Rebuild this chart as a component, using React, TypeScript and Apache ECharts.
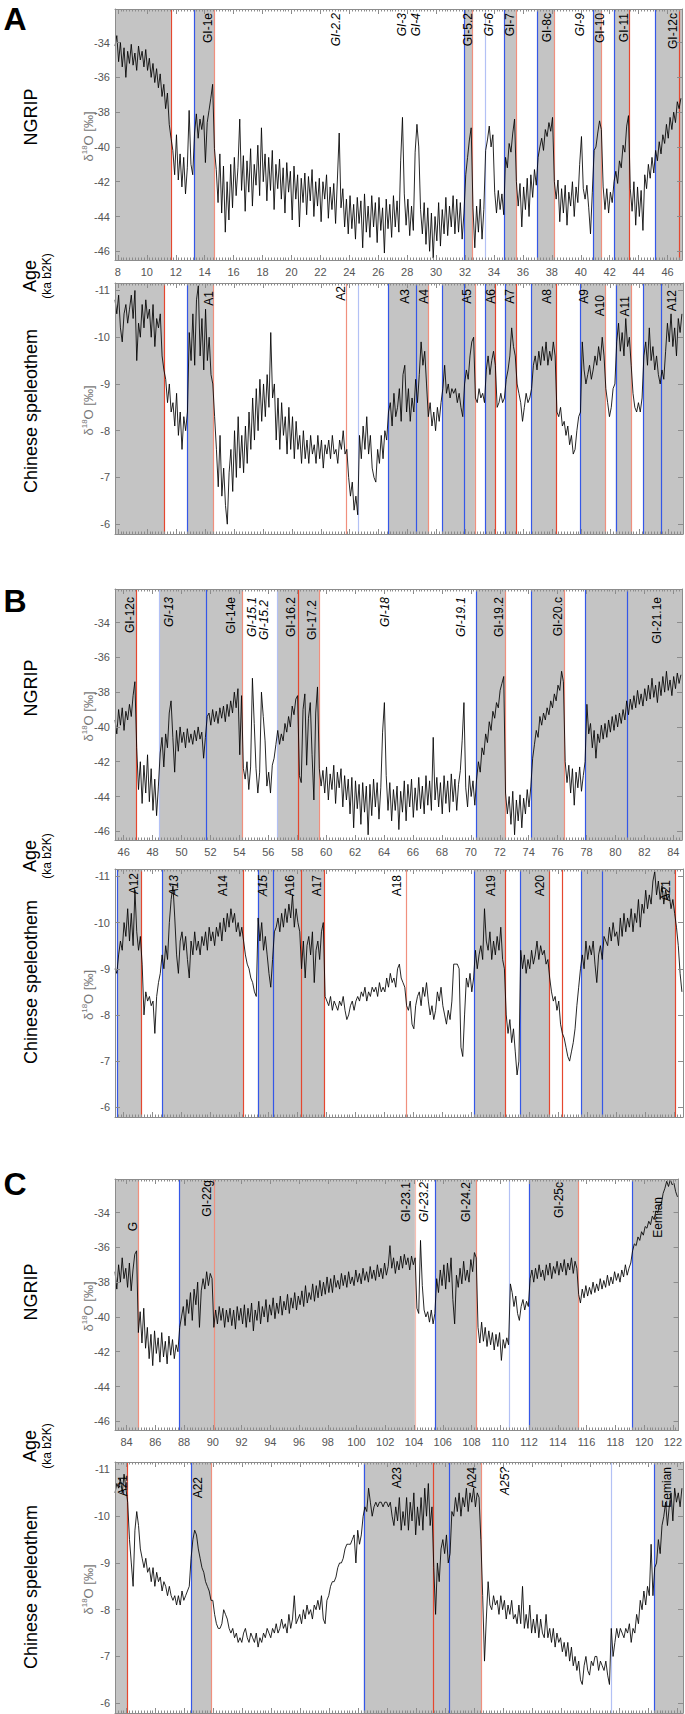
import React, { useEffect, useRef } from "react";
import * as echarts from "echarts";

// ---------- DATA ----------
// NGRIP δ18O, panel A (one row = 1 ka, sampled every 0.125 ka from 7.8 ka)
const ngripA_start = 7.8;
const ngripA_step = 0.125;
const ngripA = [
  -34.2, -33.6, -35.1, -34.0, -35.4, -34.3, -36.0, -34.5,
  -35.2, -34.1, -35.3, -34.6, -35.6, -34.2, -35.0, -34.5,
  -35.4, -34.4, -35.6, -34.9, -36.0, -35.2, -36.3, -35.5,
  -36.6, -35.8, -37.1, -36.4, -37.8, -36.9, -38.7, -39.5,
  -40.2, -41.6, -39.3, -41.9, -40.4, -42.3, -40.6, -42.7,
  -41.2, -37.9, -41.0, -41.6, -39.2, -38.1, -39.5, -38.4,
  -39.0, -38.2, -40.9, -38.6, -37.9, -37.2, -36.4, -40.1,
  -41.3, -43.2, -40.4, -43.8, -41.1, -44.9, -42.0, -44.2,
  -41.0, -43.5, -40.6, -42.8, -41.2, -38.4, -42.5, -40.5,
  -43.7, -40.8, -42.6, -40.1, -43.4, -41.0, -42.2, -39.9,
  -42.8, -38.9, -42.0, -40.4, -43.1, -40.6, -42.5, -40.2,
  -43.6, -41.0, -42.4, -40.7, -43.0, -41.2, -43.8, -40.9,
  -42.6, -41.4, -44.2, -41.1, -43.0, -41.6, -44.6, -41.8,
  -43.2, -41.5, -43.9, -41.7, -43.1, -41.3, -44.0, -42.0,
  -43.4, -41.8, -44.3, -42.0, -43.0, -41.6, -44.1, -42.3,
  -43.6, -42.1, -44.4, -41.9, -39.2, -43.5, -42.4, -44.6,
  -43.0, -45.0, -42.8, -44.7, -43.3, -45.3, -42.9, -44.4,
  -43.1, -45.8, -42.7, -44.9, -43.4, -45.2, -42.8, -44.6,
  -43.2, -45.5, -42.9, -44.8, -43.5, -46.1, -43.0, -44.7,
  -43.3, -45.2, -42.8, -44.6, -43.1, -44.9, -40.8, -38.3,
  -42.7, -44.5, -43.0, -45.1, -43.4, -44.8, -40.3, -38.7,
  -40.0, -43.6, -45.0, -43.2, -45.6, -43.5, -46.0, -43.8,
  -46.4, -44.0, -45.4, -43.2, -45.7, -43.6, -45.0, -42.9,
  -45.1, -43.4, -44.6, -42.8, -45.0, -43.0, -44.9, -43.2,
  -45.3, -43.8, -41.6, -40.6, -39.6, -38.9, -43.5, -45.8,
  -43.4, -44.9, -43.0, -45.3, -43.6, -40.2, -39.6, -38.8,
  -40.0, -39.3, -42.6, -43.8, -42.5, -43.6, -42.7, -43.9,
  -40.6, -41.2, -39.8, -40.3, -39.2, -38.4, -42.0, -43.4,
  -42.1, -44.6, -42.3, -43.6, -41.8, -44.0, -41.6, -42.9,
  -41.3, -42.2, -40.6, -40.0, -39.5, -40.2, -39.0, -39.4,
  -38.6, -39.1, -38.3, -42.0, -43.0, -41.9, -44.3, -42.4,
  -43.8, -42.2, -44.5, -42.6, -43.4, -42.0, -44.0, -42.3,
  -43.2, -41.0, -39.4, -42.4, -43.0, -42.2, -43.5, -45.0,
  -42.6, -40.2, -40.0, -39.2, -38.5, -39.0, -42.3, -43.6,
  -42.4, -43.8, -42.6, -43.2, -42.0, -41.4, -42.1, -40.8,
  -41.2, -39.9, -40.3, -38.8, -38.2, -42.4, -43.7, -42.0,
  -44.5, -42.3, -44.0, -42.5, -44.8, -41.6, -42.4, -41.0,
  -41.8, -40.6, -41.5, -40.2, -40.8, -39.7, -40.4, -39.3,
  -39.8, -38.7, -39.5, -38.3, -39.0, -38.0, -38.6, -37.4,
  -37.8, -37.2,
];
// Chinese speleothem δ18O, panel A
const spelA_start = 7.8;
const spelA_step = 0.125;
const spelA = [
  -10.8, -10.5, -10.9, -10.2, -9.9, -10.5, -10.7, -10.3,
  -10.6, -10.9, -10.4, -11.0, -9.5, -10.3, -10.0, -10.7,
  -10.2, -10.8, -10.4, -10.6, -10.0, -10.7, -9.8, -10.4,
  -10.2, -10.5, -9.6, -9.3, -9.1, -8.6, -9.0, -8.4,
  -8.6, -8.1, -8.8, -7.9, -8.4, -7.6, -8.3, -8.0,
  -8.4, -10.1, -9.5, -10.5, -9.4, -10.8, -11.1, -9.6,
  -10.4, -9.3, -10.6, -9.5, -10.0, -9.2, -9.0, -8.3,
  -7.6, -6.8, -7.9, -6.6, -7.2, -6.4, -6.0, -7.1,
  -7.6, -6.7, -8.0, -7.0, -8.3, -7.2, -7.9, -7.1,
  -8.1, -7.3, -8.4, -7.6, -8.7, -7.8, -8.9, -8.0,
  -9.1, -8.2, -9.0, -8.3, -9.2, -8.5, -10.1, -8.7,
  -9.0, -7.8, -8.7, -7.6, -8.6, -7.9, -8.3, -7.5,
  -8.5, -7.6, -8.3, -7.4, -8.2, -7.6, -7.9, -7.3,
  -8.0, -7.4, -7.8, -7.3, -7.9, -7.5, -7.7, -7.3,
  -7.9, -7.4, -7.8, -7.2, -7.7, -7.5, -7.8, -7.4,
  -7.9, -7.5, -7.6, -7.3, -7.8, -7.6, -8.0, -7.5,
  -7.6, -7.0, -6.6, -6.9, -6.3, -6.6, -6.2, -7.9,
  -7.4, -8.1, -7.6, -8.3, -7.5, -7.9, -7.2, -7.0,
  -6.9, -7.6, -7.3, -7.9, -7.4, -8.0, -7.8, -8.4,
  -8.6, -8.1, -8.8, -8.3, -8.5, -8.9, -8.2, -9.2,
  -9.4, -8.4, -8.9, -8.2, -8.7, -8.4, -9.1, -8.6,
  -9.2, -9.9, -9.4, -9.7, -9.0, -8.3, -8.6, -8.1,
  -8.4, -8.0, -8.5, -8.2, -8.6, -8.9, -9.4, -8.8,
  -9.0, -8.7, -8.9, -8.8, -8.9, -8.6, -8.8, -8.5,
  -8.3, -9.0, -9.3, -9.1, -9.6, -9.9, -10.0, -8.7,
  -8.6, -8.9, -8.7, -8.8, -8.6, -9.3, -9.6, -9.2,
  -9.5, -9.7, -9.4, -8.5, -8.6, -8.8, -8.6, -8.7,
  -9.1, -9.3, -9.6, -10.2, -9.8, -9.6, -9.0, -8.8,
  -8.6, -8.2, -8.5, -8.8, -8.6, -8.7, -8.9, -9.4,
  -9.6, -9.3, -9.7, -9.4, -9.8, -9.5, -9.9, -9.4,
  -9.7, -9.5, -9.9, -9.6, -8.4, -8.3, -8.5, -8.1,
  -8.2, -7.9, -8.1, -7.7, -7.9, -7.5, -7.6, -8.0,
  -8.3, -8.4, -9.9, -9.3, -9.0, -9.2, -9.4, -9.1,
  -9.3, -9.6, -9.4, -9.8, -9.5, -10.0, -9.6, -8.9,
  -8.6, -8.3, -8.5, -8.9, -9.0, -9.9, -10.3, -9.7,
  -10.1, -9.6, -10.4, -9.8, -10.0, -9.4, -8.8, -8.5,
  -8.4, -8.6, -8.4, -8.7, -9.6, -9.9, -9.4, -10.2,
  -9.5, -9.8, -9.3, -9.6, -9.2, -9.0, -9.3, -9.1,
  -9.7, -10.3, -9.9, -10.5, -9.8, -10.2, -9.6, -10.4,
  -10.1, -10.5,
];

// NGRIP δ18O, panel B (from 45.4 ka)
const ngripB_start = 45.4;
const ngripB_step = 0.125;
const ngripB = [
  -39.6, -40.4, -39.0, -39.9, -38.9, -40.2, -39.1, -39.6,
  -38.7, -39.4, -38.2, -37.4, -41.2, -43.6, -42.0, -44.4,
  -42.2, -43.8, -41.6, -44.3, -42.4, -44.8, -43.0, -45.1,
  -43.4, -41.5, -40.6, -42.3, -40.4, -41.2, -39.2, -38.5,
  -40.6, -42.6, -40.2, -41.4, -40.0, -40.9, -40.3, -41.2,
  -40.1, -40.9, -40.4, -41.0, -40.2, -40.8, -40.0, -40.7,
  -40.3, -41.8, -40.6, -39.4, -39.2, -39.9, -39.0, -39.7,
  -39.1, -39.8, -38.9, -39.5, -38.8, -39.7, -38.7, -39.4,
  -38.5, -39.2, -38.0, -38.9, -37.8, -41.6, -38.2, -42.4,
  -43.0, -42.0, -43.6, -42.3, -37.2, -39.8, -42.4, -43.8,
  -42.6, -38.0, -39.4, -40.8, -43.4, -42.6, -43.8, -42.2,
  -41.8, -41.0, -40.2, -41.0, -40.4, -40.8, -39.8, -40.3,
  -39.4, -40.0, -38.8, -39.3, -38.4, -38.2, -42.8, -43.2,
  -39.0, -38.1, -42.2, -39.5, -38.6, -41.6, -44.2, -39.2,
  -37.7, -42.4, -43.4, -42.5, -43.8, -42.3, -44.2, -42.7,
  -43.6, -42.2, -44.4, -42.6, -43.5, -42.4, -44.6, -42.8,
  -44.2, -43.0, -45.0, -42.9, -45.8, -43.1, -44.7, -43.3,
  -45.6, -43.2, -44.9, -43.4, -46.2, -43.3, -45.1, -43.0,
  -44.6, -43.2, -45.3, -43.5, -40.3, -38.6, -42.8, -44.8,
  -43.2, -45.4, -43.6, -44.8, -43.4, -45.9, -43.7, -44.9,
  -43.1, -45.4, -43.3, -44.6, -43.0, -45.2, -43.5, -44.8,
  -42.9, -44.7, -43.4, -45.0, -42.8, -44.5, -43.1, -44.8,
  -40.6, -44.2, -42.9, -44.6, -43.2, -45.0, -42.8, -44.4,
  -43.1, -44.9, -42.7, -44.3, -43.0, -44.8, -43.3, -42.5,
  -40.8, -38.6, -43.5, -44.6, -42.8, -44.0, -43.1, -44.5,
  -43.0, -42.0, -42.6, -41.2, -41.6, -40.4, -40.9, -39.7,
  -40.2, -39.1, -39.5, -38.6, -38.9, -37.9, -37.5, -37.1,
  -43.8, -45.0, -44.0, -45.6, -43.7, -46.2, -44.2, -45.4,
  -43.9, -45.8, -44.1, -45.0, -43.6, -44.6, -43.4, -41.8,
  -41.0, -40.2, -40.6, -39.4, -39.9, -39.2, -39.6, -38.9,
  -39.3, -38.5, -38.9, -38.1, -38.5, -37.6, -37.9, -36.8,
  -37.4, -42.0, -43.2, -42.2, -43.8, -42.4, -44.5, -42.6,
  -43.5, -42.3, -43.7, -42.8, -42.0, -38.7, -40.4, -39.8,
  -41.2, -40.2, -41.8, -40.4, -40.9, -39.9, -40.7, -39.8,
  -40.6, -39.6, -40.3, -39.4, -40.2, -39.3, -40.0, -39.2,
  -39.8, -39.0, -39.6, -38.5, -39.3, -38.4, -39.0, -38.2,
  -38.9, -37.9, -38.7, -38.1, -38.8, -37.8, -38.5, -37.6,
  -38.4, -37.2, -38.3, -37.6, -38.6, -37.4, -38.2, -37.1,
  -38.0, -36.8, -37.9, -37.3, -38.2, -37.1, -37.8, -36.9,
  -37.5, -37.0,
];
// Chinese speleothem δ18O, panel B
const spelB_start = 45.4;
const spelB_step = 0.125;
const spelB = [
  -9.0, -8.9, -9.3, -9.6, -9.4, -10.0, -9.7, -10.3,
  -9.6, -10.2, -9.5, -10.7, -9.8, -9.4, -9.7, -9.1,
  -8.0, -8.5, -8.3, -8.4, -8.2, -8.3, -7.6, -8.4,
  -8.7, -8.9, -9.3, -9.0, -9.5, -9.2, -10.0, -10.5,
  -10.8, -10.1, -9.3, -8.9, -9.6, -9.8, -9.4, -9.7,
  -9.2, -8.8, -9.6, -9.3, -9.8, -9.4, -9.6, -9.3,
  -9.7, -9.5, -9.8, -9.4, -9.9, -9.6, -9.8, -9.5,
  -9.9, -9.7, -10.0, -9.6, -10.1, -9.8, -10.2, -9.9,
  -10.3, -10.0, -10.2, -9.8, -10.0, -9.7, -9.9, -9.6,
  -9.3, -9.1, -9.0, -8.8, -8.7, -8.5, -8.4, -10.1,
  -9.6, -10.0, -9.4, -9.7, -9.3, -8.9, -8.6, -9.2,
  -9.8, -9.9, -10.1, -9.8, -10.2, -9.9, -10.3, -10.0,
  -10.4, -10.1, -10.6, -9.9, -10.3, -10.0, -9.8, -9.0,
  -9.6, -8.8, -9.5, -9.7, -9.3, -9.8, -8.7, -9.4,
  -9.6, -9.2, -9.8, -10.0, -8.4, -8.3, -8.2, -8.4,
  -8.1, -8.3, -8.2, -8.1, -8.3, -8.2, -8.4, -8.1,
  -7.9, -8.0, -8.2, -8.3, -8.1, -8.3, -8.4, -8.3,
  -8.5, -8.4, -8.6, -8.3, -8.5, -8.4, -8.6, -8.5,
  -8.6, -8.4, -8.7, -8.5, -8.6, -8.5, -8.8, -8.6,
  -8.9, -8.7, -8.8, -8.6, -9.0, -9.1, -8.8, -8.7,
  -8.6, -8.2, -8.1, -8.3, -7.8, -7.7, -8.2, -8.4,
  -8.5, -8.2, -8.6, -8.4, -8.7, -8.3, -8.0, -8.2,
  -7.9, -8.1, -8.5, -8.3, -8.6, -8.2, -8.0, -7.8,
  -8.1, -7.9, -8.3, -9.1, -9.1, -9.1, -9.0, -7.3,
  -7.1, -8.0, -8.8, -8.6, -8.9, -8.5, -8.8, -9.4,
  -9.0, -9.3, -9.5, -9.2, -10.3, -9.6, -9.4, -9.8,
  -9.2, -9.6, -9.3, -9.7, -9.4, -9.9, -9.2, -9.0,
  -8.0, -7.6, -7.9, -7.4, -7.7, -7.2, -6.7, -7.0,
  -9.4, -9.0, -9.3, -8.9, -9.2, -9.0, -9.4, -9.1,
  -9.3, -9.6, -9.2, -9.5, -9.3, -9.4, -9.1, -9.2,
  -8.8, -8.5, -8.3, -8.4, -8.1, -8.3, -7.8, -7.6,
  -7.5, -7.3, -7.1, -7.0, -7.2, -7.4, -7.7, -8.2,
  -8.6, -9.0, -9.3, -9.0, -9.6, -9.2, -9.5, -9.3,
  -9.6, -9.1, -8.7, -9.3, -9.5, -9.2, -9.7, -9.6,
  -9.5, -9.9, -9.6, -10.0, -9.7, -9.8, -9.5, -10.1,
  -9.7, -10.2, -9.8, -10.1, -9.9, -10.3, -9.8, -10.2,
  -10.0, -10.5, -9.9, -10.4, -10.2, -10.7, -10.3, -10.6,
  -10.4, -10.9, -11.1, -10.6, -10.9, -10.5, -10.8, -10.4,
  -10.7, -10.5, -10.6, -10.3, -10.5, -10.2, -9.9, -9.5,
  -8.9, -8.5,
];

// NGRIP δ18O, panel C (from 83.2 ka)
const ngripC_start = 83.2;
const ngripC_step = 0.125;
const ngripC = [
  -37.4, -38.4, -37.0, -38.0, -36.6, -37.8, -37.2, -38.3,
  -36.9, -38.5, -37.3, -36.4, -36.2, -40.9, -39.7, -41.5,
  -39.5, -41.8, -40.6, -42.4, -41.0, -42.8, -40.8, -42.1,
  -41.2, -42.6, -40.9, -42.3, -41.4, -42.7, -41.1, -42.2,
  -41.3, -42.4, -41.6, -42.0, -40.6, -40.0, -39.4, -40.5,
  -39.0, -39.8, -38.6, -40.2, -38.4, -39.3, -38.0, -40.6,
  -38.5, -37.8, -38.4, -37.4, -38.2, -37.5, -37.8, -40.6,
  -39.6, -40.4, -39.4, -40.2, -39.5, -40.6, -39.6, -40.3,
  -39.5, -40.5, -39.6, -40.7, -39.4, -40.2, -39.5, -40.4,
  -39.3, -40.6, -39.5, -40.3, -39.2, -40.8, -39.6, -40.2,
  -39.1, -40.4, -39.4, -40.0, -39.0, -40.3, -39.3, -39.9,
  -38.9, -40.1, -39.2, -39.8, -38.8, -39.9, -39.1, -39.6,
  -38.7, -39.8, -38.9, -39.5, -38.6, -39.6, -38.8, -39.3,
  -38.5, -39.4, -38.2, -39.2, -38.6, -39.0, -38.1, -39.1,
  -38.2, -38.9, -37.9, -38.8, -38.0, -38.7, -37.7, -38.6,
  -37.8, -38.6, -37.6, -38.3, -37.9, -38.4, -37.5, -38.2,
  -37.6, -38.3, -37.4, -38.1, -37.7, -38.2, -37.3, -38.0,
  -37.5, -38.1, -37.2, -37.9, -37.4, -38.0, -37.1, -37.8,
  -37.3, -37.9, -37.0, -37.7, -37.2, -37.8, -36.9, -37.6,
  -37.1, -35.9, -37.2, -36.6, -37.5, -36.8, -37.3, -36.5,
  -37.2, -36.4, -37.0, -36.6, -37.3, -36.5, -37.0, -36.6,
  -39.5, -39.8, -35.6, -38.2, -39.6, -40.0, -39.7, -40.3,
  -39.6, -40.4, -39.8, -37.8, -38.6, -37.3, -38.2, -37.0,
  -38.4, -36.9, -38.0, -36.6, -39.0, -40.4, -37.6, -38.3,
  -37.2, -38.1, -36.8, -37.9, -37.3, -38.0, -36.7, -37.4,
  -36.3, -36.6, -40.6, -41.5, -40.3, -41.4, -40.6, -41.7,
  -40.8, -41.6, -40.9, -41.9, -41.0, -41.7, -40.9, -42.5,
  -41.3, -41.8, -41.2, -41.6, -38.1, -38.6, -39.4, -38.8,
  -39.8, -40.2, -39.4, -39.0, -39.6, -39.1, -39.4, -37.8,
  -37.3, -38.0, -37.2, -37.8, -37.0, -37.7, -37.3, -37.9,
  -37.0, -37.6, -36.9, -37.8, -37.1, -37.5, -36.8, -37.6,
  -36.9, -37.4, -36.7, -37.6, -36.9, -37.3, -36.6, -37.5,
  -36.8, -37.2, -38.7, -39.2, -38.4, -38.9, -38.2, -38.8,
  -38.3, -38.7, -38.0, -38.6, -38.1, -38.5, -37.8, -38.4,
  -37.9, -38.3, -37.6, -38.2, -37.7, -38.1, -37.4, -37.9,
  -37.5, -38.0, -37.3, -37.7, -37.0, -37.6, -37.2, -36.9,
  -36.2, -35.8, -35.9, -35.4, -35.6, -35.1, -35.3, -34.8,
  -34.9, -34.5, -34.7, -34.2, -34.4, -33.9, -34.0, -33.6,
  -33.5, -32.9, -32.6, -32.2, -32.5, -32.1, -32.4, -32.3,
  -32.8, -33.1,
];
// Chinese speleothem δ18O, panel C
const spelC_start = 83.2;
const spelC_step = 0.125;
const spelC = [
  -10.5, -10.7, -10.6, -10.8, -10.5, -10.9, -10.6, -10.3,
  -9.5, -9.0, -8.5, -9.7, -10.1, -9.8, -9.3, -9.1,
  -8.9, -9.1, -8.8, -8.9, -8.6, -8.9, -8.5, -8.8,
  -8.6, -8.7, -8.4, -8.6, -8.5, -8.3, -8.5, -8.3,
  -8.2, -8.3, -8.1, -8.3, -8.1, -8.4, -8.2, -8.3,
  -8.4, -8.5, -9.1, -9.5, -9.7, -9.6, -9.3, -9.1,
  -8.9, -8.8, -8.6, -8.5, -8.4, -8.2, -8.2, -7.9,
  -7.7, -7.6, -7.6, -7.7, -8.0, -7.9, -7.8, -7.6,
  -7.5, -7.6, -7.4, -7.5, -7.3, -7.4, -7.3, -7.5,
  -7.6, -7.4, -7.3, -7.5, -7.4, -7.3, -7.5, -7.2,
  -7.4, -7.3, -7.5, -7.4, -7.6, -7.5, -7.4, -7.6,
  -7.5, -7.7, -7.5, -7.6, -7.8, -7.6, -7.7, -7.5,
  -7.9, -7.6, -7.8, -8.3, -7.7, -7.8, -7.9, -7.7,
  -8.0, -7.8, -8.1, -7.9, -8.0, -7.8, -8.1, -8.0,
  -8.2, -8.0, -8.3, -7.8, -7.7, -8.2, -8.3, -8.5,
  -8.6, -8.6, -8.7, -8.9, -9.0, -9.0, -9.1, -9.3,
  -9.4, -9.4, -9.4, -9.5, -9.6, -9.0, -9.7, -9.4,
  -9.6, -10.0, -10.2, -10.1, -10.6, -10.3, -10.0, -10.2,
  -10.3, -10.2, -10.3, -10.3, -10.2, -10.3, -10.3, -10.2,
  -10.3, -10.0, -9.8, -10.2, -9.9, -10.4, -9.7, -10.1,
  -9.8, -10.4, -9.7, -10.3, -9.9, -10.5, -9.6, -10.2,
  -9.8, -10.4, -9.7, -10.6, -10.0, -10.7, -9.8, -10.2,
  -8.9, -7.9, -9.0, -8.6, -9.3, -9.5, -9.2, -9.6,
  -9.0, -9.2, -10.1, -10.0, -10.4, -10.1, -10.5, -10.0,
  -10.4, -10.2, -10.6, -10.1, -10.5, -10.3, -10.6, -10.2,
  -10.5, -10.4, -9.5, -8.3, -6.9, -7.8, -8.6, -8.1,
  -8.0, -8.3, -8.1, -8.2, -7.9, -8.3, -8.0, -8.2,
  -7.8, -8.1, -7.9, -8.2, -7.8, -7.9, -7.7, -8.1,
  -7.7, -8.5, -7.6, -7.9, -7.6, -8.1, -7.5, -7.8,
  -7.5, -7.9, -7.4, -7.8, -7.5, -7.4, -7.9, -7.4,
  -7.6, -7.3, -7.6, -7.2, -7.5, -7.3, -7.4, -7.1,
  -7.3, -7.0, -7.3, -6.9, -7.2, -6.8, -7.0, -6.7,
  -6.9, -6.5, -6.4, -6.8, -7.0, -6.7, -6.6, -6.9,
  -6.8, -7.0, -7.0, -6.7, -6.9, -6.8, -6.7, -6.9,
  -6.6, -6.4, -7.6, -7.0, -7.3, -7.6, -7.4, -7.6,
  -7.5, -7.4, -7.6, -7.5, -7.7, -7.3, -7.6, -7.5,
  -7.9, -7.7, -8.2, -8.0, -8.4, -8.1, -8.5, -8.3,
  -9.4, -8.3, -8.9, -9.0, -9.5, -9.2, -9.8, -10.0,
  -10.3, -9.8, -10.2, -10.5, -9.9, -10.6, -10.3, -10.5,
  -10.2, -10.6,
];

// Shaded intervals [from, to] in ka
const bandsNgripA = [[7.8, 11.66], [13.26, 14.66], [31.95, 32.53], [34.72, 35.52], [37.01, 38.17], [40.86, 41.45], [42.3, 43.35], [45.14, 47.0]];
const bandsSpelA = [[7.8, 11.18], [12.81, 14.6], [26.66, 29.42], [30.41, 32.64], [33.38, 34.07], [34.71, 35.52], [36.56, 38.28], [39.94, 41.66], [42.36, 43.46], [44.26, 47.0]];
const bandsNgripB = [[45.4, 46.85], [48.48, 54.23], [56.6, 59.5], [70.4, 72.37], [74.19, 76.46], [77.91, 84.6]];
const bandsSpelB = [[45.58, 47.24], [48.66, 54.23], [55.26, 59.84], [70.19, 72.34], [73.4, 75.4], [77.58, 84.09]];
const bandsNgripC = [[83.2, 84.82], [87.69, 104.06], [105.48, 108.33], [111.99, 115.44], [119.19, 122.4]];
const bandsSpelC = [[83.2, 84.03], [88.45, 89.87], [100.37, 108.5], [120.45, 122.4]];

// Transition lines [ka, kind]  r=red, s=salmon, lr=light red, b=blue, lb=light blue
const linesNgripA = [[11.66, "r"], [13.26, "b"], [14.66, "s"], [31.95, "b"], [32.53, "s"], [33.4, "lb"], [34.72, "b"], [35.52, "s"], [37.01, "b"], [38.17, "s"], [40.86, "b"], [41.45, "s"], [42.3, "b"], [43.35, "r"], [45.14, "b"], [46.78, "r"]];
const linesSpelA = [[11.18, "r"], [12.81, "b"], [14.6, "s"], [23.74, "s"], [24.59, "lb"], [26.66, "b"], [28.62, "b"], [29.42, "s"], [30.41, "b"], [31.89, "b"], [32.64, "s"], [33.38, "b"], [34.07, "r"], [34.71, "b"], [35.52, "r"], [36.56, "b"], [38.28, "r"], [39.94, "b"], [41.66, "s"], [42.36, "b"], [43.46, "s"], [44.26, "b"], [45.53, "b"]];
const linesNgripB = [[46.85, "r"], [48.48, "lb"], [51.69, "b"], [54.23, "s"], [56.6, "lb"], [58.08, "r"], [59.5, "s"], [70.4, "b"], [72.37, "s"], [74.19, "b"], [76.46, "s"], [77.91, "b"], [80.82, "b"]];
const linesSpelB = [[45.58, "b"], [47.24, "r"], [48.66, "b"], [54.23, "r"], [55.26, "b"], [56.35, "b"], [58.23, "r"], [59.84, "r"], [65.5, "s"], [70.19, "b"], [72.34, "r"], [73.4, "b"], [75.4, "r"], [76.3, "r"], [77.58, "b"], [79.03, "b"], [84.09, "r"]];
const linesNgripC = [[84.82, "s"], [87.69, "b"], [90.08, "s"], [104.06, "lr"], [105.48, "b"], [108.33, "s"], [110.63, "lb"], [111.99, "b"], [115.44, "s"], [119.19, "b"]];
const linesSpelC = [[84.03, "r"], [88.45, "b"], [89.87, "s"], [100.37, "b"], [105.15, "r"], [106.3, "b"], [108.5, "s"], [117.42, "lb"], [120.45, "b"]];

// Event labels [text, ka, italic]
const labelsNgripA = [["GI-1e", 14.2, 0], ["GI-2.2", 23.1, 1], ["GI-3", 27.65, 1], ["GI-4", 28.62, 1], ["GI-5.2", 32.18, 0], ["GI-6", 33.68, 1], ["GI-7", 35.13, 0], ["GI-8c", 37.7, 0], ["GI-9", 39.98, 1], ["GI-10", 41.31, 0], ["GI-11", 43.01, 0], ["GI-12c", 46.4, 0]];
const labelsSpelA = [["A1", 14.26, 0], ["A2", 23.38, 0], ["A3", 27.81, 0], ["A4", 29.13, 0], ["A5", 32.07, 0], ["A6", 33.73, 0], ["A7", 35.06, 0], ["A8", 37.59, 0], ["A9", 40.17, 0], ["A10", 41.27, 0], ["A11", 43.0, 0], ["A12", 46.22, 0]];
const labelsNgripB = [["GI-12c", 46.45, 0], ["GI-13", 49.12, 1], ["GI-14e", 53.45, 0], ["GI-15.1", 54.87, 1], ["GI-15.2", 55.72, 1], ["GI-16.2", 57.6, 0], ["GI-17.2", 59.02, 0], ["GI-18", 64.1, 1], ["GI-19.1", 69.34, 1], ["GI-19.2", 71.98, 0], ["GI-20.c", 76.0, 0], ["GI-21.1e", 82.88, 0]];
const labelsSpelB = [["A12", 46.7, 0], ["A13", 49.48, 1], ["A14", 52.84, 0], ["A15", 55.63, 1], ["A16", 57.5, 0], ["A17", 59.32, 0], ["A18", 64.86, 0], ["A19", 71.37, 0], ["A20", 74.76, 0], ["A21", 83.42, 0]];
const labelsNgripC = [["G", 84.42, 0], ["GI-22g", 89.6, 0], ["GI-23.1", 103.46, 0], ["GI-23.2", 104.67, 1], ["GI-24.2", 107.63, 0], ["GI-25c", 114.05, 0], ["Eemian", 120.94, 0]];
const labelsSpelC = [["A21", 83.73, 0], ["A22", 88.93, 0], ["A23", 102.64, 0], ["A24", 107.82, 0], ["A25?", 110.11, 1], ["Eemian", 121.27, 0]];

const panelLetters = ["A", "B", "C"];

// ---------- STYLE / LAYOUT ----------
const FONT = '"Liberation Sans", Arial, Helvetica, sans-serif';
const LINE_COLORS: Record<string, string> = { r: "#e5472f", s: "#f0907e", lr: "#f8bfb4", b: "#3457e8", lb: "#b3c1f5" };
const BAND_COLOR = "#c4c4c4";
const AXIS_COLOR = "#8c8c8c";
const LABEL_COLOR = "#555555";
const GRID_LEFT = 115;
const GRID_WIDTH = 568;
const layout = [
  { top: 9, height: 251 },
  { top: 283, height: 251 },
  { top: 589, height: 251 },
  { top: 869, height: 248 },
  { top: 1179, height: 251 },
  { top: 1462, height: 251 },
];
const labelDropDefault = [4, 6, 8, 6, 3, 5];
const labelDropExtra: Record<string, number> = {
  "1:A1": 8, "1:A2": 3, "1:A10": 12, "1:A11": 13, "1:A12": 7,
  "2:GI-15.2": 11, "2:GI-17.2": 11,
  "3:A12": 4, "3:A21": 11,
  "4:G": 43, "4:GI-22g": 1, "4:Eemian": 18,
  "5:A21": 13, "5:A22": 15,
};

type Panel = {
  kind: "ngrip" | "spel";
  xMin: number; xMax: number; start: number; step: number; values: number[];
  bands: number[][]; lines: any[]; labels: any[];
};

const panels: Panel[] = [
  { kind: "ngrip", xMin: 7.8, xMax: 47.0, start: ngripA_start, step: ngripA_step, values: ngripA, bands: bandsNgripA, lines: linesNgripA, labels: labelsNgripA },
  { kind: "spel", xMin: 7.8, xMax: 47.0, start: spelA_start, step: spelA_step, values: spelA, bands: bandsSpelA, lines: linesSpelA, labels: labelsSpelA },
  { kind: "ngrip", xMin: 45.4, xMax: 84.6, start: ngripB_start, step: ngripB_step, values: ngripB, bands: bandsNgripB, lines: linesNgripB, labels: labelsNgripB },
  { kind: "spel", xMin: 45.4, xMax: 84.6, start: spelB_start, step: spelB_step, values: spelB, bands: bandsSpelB, lines: linesSpelB, labels: labelsSpelB },
  { kind: "ngrip", xMin: 83.2, xMax: 122.4, start: ngripC_start, step: ngripC_step, values: ngripC, bands: bandsNgripC, lines: linesNgripC, labels: labelsNgripC },
  { kind: "spel", xMin: 83.2, xMax: 122.4, start: spelC_start, step: spelC_step, values: spelC, bands: bandsSpelC, lines: linesSpelC, labels: labelsSpelC },
];

const isMult = (v: number, m: number) => Math.abs(v / m - Math.round(v / m)) < 1e-6;

function buildOption() {
  const grid: any[] = [];
  const xAxis: any[] = [];
  const yAxis: any[] = [];
  const series: any[] = [];
  panels.forEach((p, i) => {
    const L = layout[i];
    grid.push({ left: GRID_LEFT, top: L.top, width: GRID_WIDTH, height: L.height, containLabel: false });
    const isN = p.kind === "ngrip";
    const common = { type: "value", gridIndex: i, min: p.xMin, max: p.xMax, splitLine: { show: false }, z: 5 };
    xAxis.push({
      ...common, position: "bottom", splitNumber: 20,
      axisLine: { show: true, onZero: false, lineStyle: { color: AXIS_COLOR, width: 1 } },
      axisTick: { show: true, inside: true, length: 5, lineStyle: { color: AXIS_COLOR } },
      axisLabel: {
        show: isN, color: LABEL_COLOR, fontSize: 11, fontFamily: FONT, margin: 6,
        formatter: (v: number) => (isMult(v, 2) ? String(Math.round(v)) : ""),
      },
    });
    xAxis.push({
      ...common, position: "bottom", interval: 0.2,
      axisLine: { show: false, onZero: false },
      axisTick: { show: true, inside: true, length: 2.5, lineStyle: { color: AXIS_COLOR } },
      axisLabel: { show: false },
    });
    xAxis.push({
      ...common, position: "top", splitNumber: 20,
      axisLine: { show: true, onZero: false, lineStyle: { color: AXIS_COLOR, width: 1 } },
      axisTick: { show: true, inside: true, length: 5, lineStyle: { color: AXIS_COLOR } },
      axisLabel: { show: false },
    });
    xAxis.push({
      ...common, position: "top", interval: 0.2,
      axisLine: { show: false, onZero: false },
      axisTick: { show: true, inside: true, length: 2.5, lineStyle: { color: AXIS_COLOR } },
      axisLabel: { show: false },
    });
    const yCommon = isN
      ? { min: -46.5, max: -32.07, splitNumber: 7, inverse: false }
      : { min: -11.16, max: -5.79, splitNumber: 5, inverse: true };
    const yFmt = (v: number) => (isN ? (isMult(v, 2) ? String(Math.round(v)) : "") : isMult(v, 1) ? String(Math.round(v)) : "");
    yAxis.push({
      type: "value", gridIndex: i, position: "left", ...yCommon, z: 5,
      splitLine: { show: false },
      axisLine: { show: true, onZero: false, lineStyle: { color: AXIS_COLOR, width: 1 } },
      axisTick: { show: true, inside: true, length: 5, lineStyle: { color: AXIS_COLOR } },
      axisLabel: { show: true, color: LABEL_COLOR, fontSize: 11, fontFamily: FONT, margin: 5, formatter: yFmt },
    });
    yAxis.push({
      type: "value", gridIndex: i, position: "right", ...yCommon, z: 5,
      splitLine: { show: false },
      axisLine: { show: true, onZero: false, lineStyle: { color: AXIS_COLOR, width: 1 } },
      axisTick: { show: true, inside: true, length: 5, lineStyle: { color: AXIS_COLOR } },
      axisLabel: { show: false },
    });

    series.push({
      type: "line",
      xAxisIndex: 4 * i,
      yAxisIndex: 2 * i,
      data: p.values.map((v, k) => [Math.round((p.start + k * p.step) * 1000) / 1000, v]),
      showSymbol: false,
      symbol: "none",
      silent: true,
      clip: true,
      lineStyle: { color: "#000", width: 0.85 },
      z: 3,
      markArea: {
        silent: true,
        z: 1,
        label: { show: false },
        itemStyle: { color: BAND_COLOR },
        data: p.bands.map(([a, b]) => [{ xAxis: a }, { xAxis: b }]),
      },
      markLine: {
        silent: true,
        z: 2,
        symbol: ["none", "none"],
        label: { show: false },
        emphasis: { disabled: true },
        data: p.lines.map(([x, c]: [number, string]) => ({
          xAxis: x,
          lineStyle: { color: LINE_COLORS[c], width: 1.2, type: "solid" },
        })),
      },
    });
  });
  return { animation: false, backgroundColor: "#fff", grid, xAxis, yAxis, series };
}

function rotText(x: number, y: number, text: string, font: string, fill: string, align: string) {
  return {
    type: "text",
    x, y,
    rotation: Math.PI / 2,
    z: 100,
    silent: true,
    style: { text, font, fill, align, textAlign: align, verticalAlign: "middle", textVerticalAlign: "middle" },
  };
}

function buildGraphics(chart: any) {
  const els: any[] = [];
  panels.forEach((p, i) => {
    const L = layout[i];
    p.labels.forEach(([t, ka, it]: [string, number, number]) => {
      const x = chart.convertToPixel({ xAxisIndex: 4 * i }, ka);
      const dy = labelDropExtra[`${i}:${t}`] ?? labelDropDefault[i];
      els.push(rotText(x, L.top + dy, t, `${it ? "italic " : ""}12px ${FONT}`, "#000", "right"));
    });
    els.push({
      type: "text",
      x: 88,
      y: L.top + L.height / 2 + 2,
      rotation: Math.PI / 2,
      z: 100,
      silent: true,
      style: {
        text: "{a|δ}{s|18}{a|O [‰]}",
        align: "center", textAlign: "center", verticalAlign: "middle", textVerticalAlign: "middle",
        rich: {
          a: { fontSize: 13, fontFamily: FONT, fill: "#777", color: "#777", lineHeight: 16 },
          s: { fontSize: 8, fontFamily: FONT, fill: "#777", color: "#777", lineHeight: 16, padding: [0, 0, 7, 0] },
        },
      },
    });
  });
  const big = `bold 32px ${FONT}`;
  const letterY = [19, 601, 1184];
  const ngripY = [117, 688, 1292];
  const spelY = [411, 982, 1587];
  const ageY = [276, 856, 1446];
  panelLetters.forEach((letter, k) => {
    els.push({
      type: "text", x: 15, y: letterY[k], z: 100, silent: true,
      style: { text: letter, font: big, fill: "#000", align: "center", textAlign: "center", verticalAlign: "middle", textVerticalAlign: "middle" },
    });
    els.push(rotText(31, ngripY[k], "NGRIP", `18px ${FONT}`, "#000", "center"));
    els.push(rotText(31, spelY[k], "Chinese speleothem", `18px ${FONT}`, "#000", "center"));
    els.push(rotText(30, ageY[k], "Age", `18px ${FONT}`, "#000", "center"));
    els.push(rotText(47, ageY[k], "(ka b2K)", `12px ${FONT}`, "#000", "center"));
  });
  return els;
}

export default function App() {
  const ref = useRef<HTMLDivElement>(null);
  useEffect(() => {
    if (!ref.current) return;
    const chart = echarts.init(ref.current, null, { renderer: "svg" });
    chart.setOption(buildOption());
    chart.setOption({ graphic: buildGraphics(chart) });
    return () => chart.dispose();
  }, []);
  return (
    <div
      ref={ref}
      style={{ position: "absolute", left: 0, top: 0, width: 685, height: 1714, background: "#fff" }}
    />
  );
}
